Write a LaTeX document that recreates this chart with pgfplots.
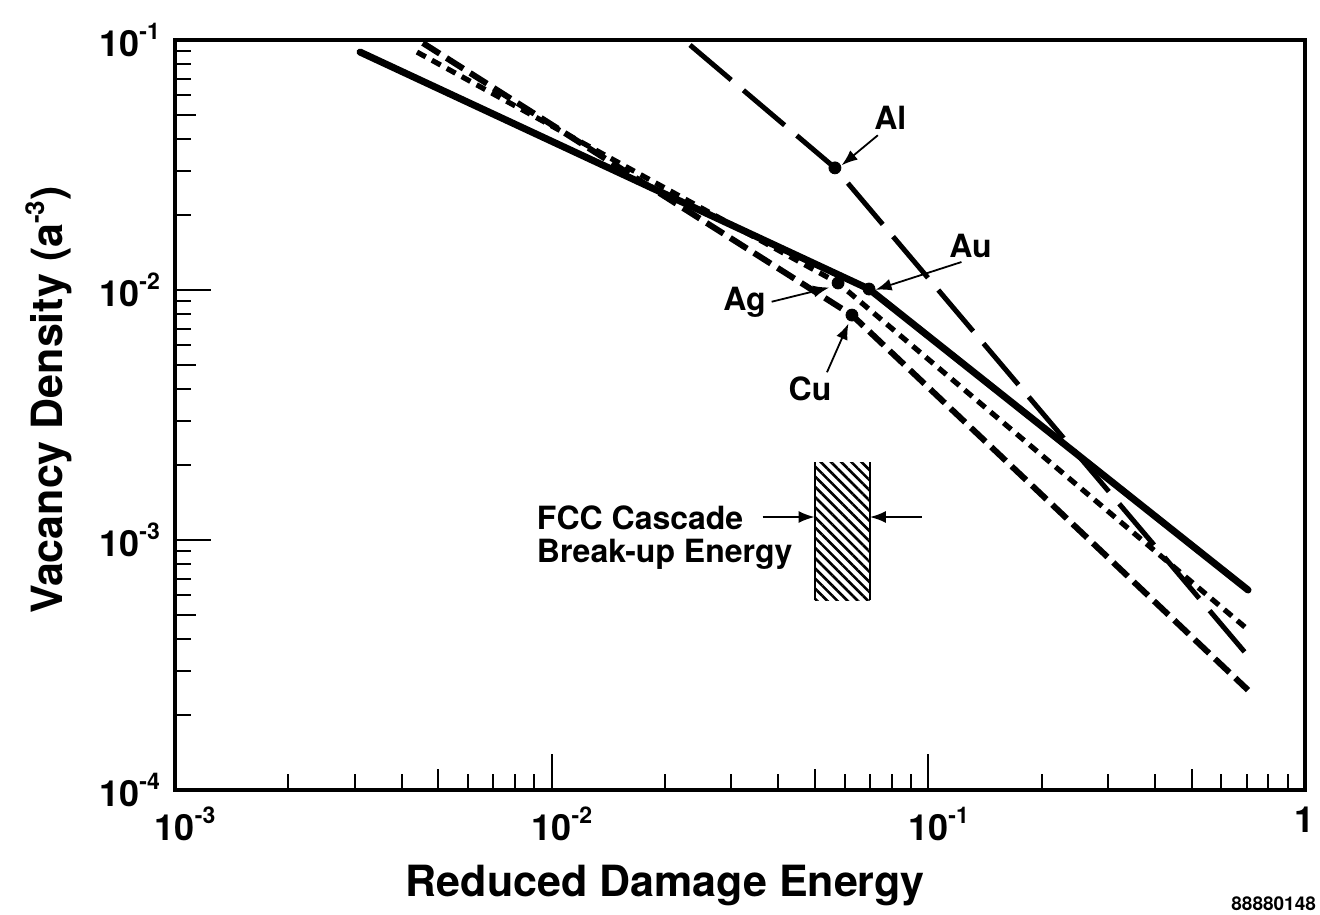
\documentclass[border=0pt]{standalone}
\usepackage{pgfplots}
\pgfplotsset{compat=1.18}
\usepackage{fontspec}
\setmainfont{TeX Gyre Heros}
\usetikzlibrary{patterns.meta,arrows.meta}

% tick labels: base 10 centred on the tick, exponent hanging to the right
\newcommand{\xl}[1]{10\rlap{\raisebox{8.5pt}{\fontsize{11.5pt}{11.5pt}\selectfont #1}}}
\newcommand{\yl}[1]{10\raisebox{8.5pt}{\fontsize{11.5pt}{11.5pt}\selectfont #1}}

\begin{document}
\begin{tikzpicture}
\begin{axis}[
    at={(0pt,0pt)}, anchor=south west,
    scale only axis,
    width=565pt, height=375pt,
    xmode=log, ymode=log,
    xmin=1e-3, xmax=1, ymin=1e-4, ymax=1e-1,
    axis line style={line width=1.6pt},
    tick pos=left,
    tick align=inside,
    tick style={line width=1pt, black},
    major tick length=18pt,
    minor tick length=8pt,
    xtick={1e-3,1e-2,1e-1,1},
    ytick={1e-4,1e-3,1e-2,1e-1},
    minor xtick={2e-3,3e-3,4e-3,6e-3,7e-3,8e-3,9e-3,2e-2,3e-2,4e-2,6e-2,7e-2,8e-2,9e-2,0.2,0.3,0.4,0.6,0.7,0.8,0.9},
    minor ytick={2e-4,3e-4,4e-4,6e-4,7e-4,8e-4,9e-4,2e-3,3e-3,4e-3,6e-3,7e-3,8e-3,9e-3,2e-2,3e-2,4e-2,6e-2,7e-2,8e-2,9e-2},
    extra x ticks={5e-3,5e-2,0.5},
    extra y ticks={5e-4,5e-3,5e-2},
    extra x tick labels={},
    extra y tick labels={},
    extra tick style={major tick length=10.5pt},
    xticklabels={\xl{-3},\xl{-2},\xl{-1},1},
    yticklabels={\yl{-4},\yl{-3},\yl{-2},\yl{-1}},
    ticklabel style={font=\fontsize{18pt}{20pt}\selectfont\bfseries},
    xticklabel style={yshift=-5pt},
    yticklabel style={xshift=-4pt},
    xlabel={Reduced Damage Energy},
    ylabel={Vacancy Density (a\raisebox{9pt}{\fontsize{13pt}{13pt}\selectfont -3})},
    label style={font=\fontsize{21.5pt}{24pt}\selectfont\bfseries},
    xlabel style={at={(axis description cs:0.434,-0.127)}, anchor=center},
    ylabel style={at={(axis description cs:-0.112,0.52)}, anchor=center, rotate=0},
    clip=false,
]
% FCC cascade break-up energy band
\addplot[draw=none, pattern={Lines[angle=-45,distance=3.6pt,line width=1.3pt]}]
    coordinates {(0.05,5.75e-4) (0.0702,5.75e-4) (0.0702,2.05e-3) (0.05,2.05e-3) (0.05,5.75e-4)};
\addplot[line width=1pt] coordinates {(0.05,5.75e-4) (0.05,2.05e-3)};
\addplot[line width=1pt] coordinates {(0.0702,5.75e-4) (0.0702,2.05e-3)};

% Au (solid)
\addplot[line width=3.5pt, line cap=round]
    coordinates {(0.00310,0.0895) (0.0696,0.01009) (0.706,6.31e-4)};
% Ag (fine dashes)
\addplot[line width=2.6pt, dash pattern=on 5pt off 3.5pt]
    coordinates {(0.00439,0.0895) (0.0576,0.01067) (0.702,4.41e-4)};
% Cu (medium dashes)
\addplot[line width=3pt, dash pattern=on 10pt off 4pt]
    coordinates {(0.00455,0.0973) (0.0627,0.00794) (0.706,2.51e-4)};
% Al (long dashes)
\addplot[line width=2.5pt, dash pattern=on 27pt off 8pt]
    coordinates {(0.0233,0.0955) (0.0565,0.0308) (0.702,3.47e-4)};

% break points
\addplot[only marks, mark=*, mark size=3pt, black]
    coordinates {(0.0565,0.0308) (0.0696,0.01009) (0.0576,0.01067) (0.0627,0.00794)};

% labels and arrows
\begin{scope}[every node/.style={font=\fontsize{16pt}{16.5pt}\selectfont\bfseries, inner sep=0pt},
              arr/.style={line width=0.9pt, -{Latex[length=8pt,width=6pt]}}]
\node[anchor=center] at (rel axis cs:0.633,0.896) {Al};
\draw[arr] (rel axis cs:0.622,0.873) -- (rel axis cs:0.590,0.833);
\node[anchor=center] at (rel axis cs:0.704,0.725) {Au};
\draw[arr] (rel axis cs:0.696,0.704) -- (rel axis cs:0.620,0.667);
\node[anchor=base] at (rel axis cs:0.504,0.640) {Ag};
\draw[arr] (rel axis cs:0.528,0.651) -- (rel axis cs:0.579,0.670);
\node[anchor=base] at (rel axis cs:0.562,0.520) {Cu};
\draw[arr] (rel axis cs:0.577,0.557) -- (rel axis cs:0.596,0.622);
\node[anchor=base west] at (rel axis cs:0.320,0.347) {FCC Cascade};
\node[anchor=base west] at (rel axis cs:0.320,0.303) {Break-up Energy};
\draw[arr] (rel axis cs:0.520,0.364) -- (rel axis cs:0.566,0.364);
\draw[arr] (rel axis cs:0.661,0.364) -- (rel axis cs:0.615,0.364);
\end{scope}
\end{axis}
\node[anchor=north west, inner sep=0pt, font=\fontsize{9.5pt}{9.5pt}\selectfont\bfseries] at (528pt,-53pt) {88880148};
\pgfresetboundingbox
\path[use as bounding box] (-87.5pt,-62pt) rectangle (572.5pt,395pt);
\end{tikzpicture}
\end{document}
